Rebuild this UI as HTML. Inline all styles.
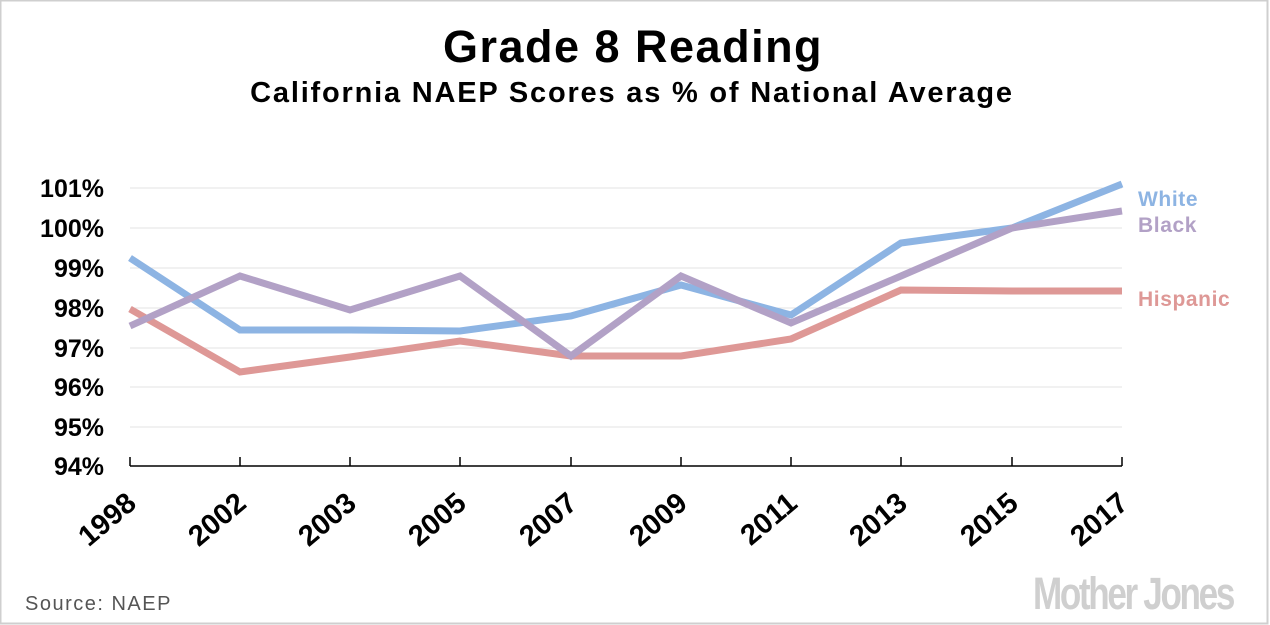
<!DOCTYPE html>
<html><head><meta charset="utf-8"><style>
html,body{margin:0;padding:0;background:#fff;}
svg{display:block;font-family:"Liberation Sans","DejaVu Sans",sans-serif;}
</style></head><body>
<svg width="1270" height="625" viewBox="0 0 1270 625">
<rect x="0.5" y="0.5" width="1267" height="623" fill="#fff" stroke="#cfcfcf" stroke-width="2"/>
<text x="633" y="62" text-anchor="middle" font-size="45" font-weight="bold" fill="#000" letter-spacing="1.5">Grade 8 Reading</text>
<text x="632" y="102" text-anchor="middle" font-size="29" font-weight="bold" fill="#000" letter-spacing="1.8">California NAEP Scores as % of National Average</text>
<g stroke="#e3e3e3" stroke-width="1">
<line x1="130" x2="1122" y1="188" y2="188"/><line x1="130" x2="1122" y1="228" y2="228"/>
<line x1="130" x2="1122" y1="268" y2="268"/><line x1="130" x2="1122" y1="308" y2="308"/>
<line x1="130" x2="1122" y1="348" y2="348"/><line x1="130" x2="1122" y1="387" y2="387"/>
<line x1="130" x2="1122" y1="427" y2="427"/>
</g>
<g font-size="25" font-weight="bold" text-anchor="end" fill="#000">
<text x="104" y="197">101%</text><text x="104" y="237">100%</text><text x="104" y="277">99%</text>
<text x="104" y="317">98%</text><text x="104" y="357">97%</text><text x="104" y="396">96%</text>
<text x="104" y="436">95%</text><text x="104" y="475">94%</text>
</g>
<g stroke="#000" stroke-width="1.5" fill="none">
<line x1="130" x2="1122" y1="466" y2="466"/>
<path d="M130 457V466M240 457V466M350 457V466M460 457V466M571 457V466M681 457V466M791 457V466M901 457V466M1012 457V466M1122 457V466"/>
</g>
<g font-size="29" font-weight="bold" text-anchor="end" fill="#000">
<text transform="translate(138,506) rotate(-40)">1998</text>
<text transform="translate(248,506) rotate(-40)">2002</text>
<text transform="translate(358,506) rotate(-40)">2003</text>
<text transform="translate(468,506) rotate(-40)">2005</text>
<text transform="translate(579,506) rotate(-40)">2007</text>
<text transform="translate(689,506) rotate(-40)">2009</text>
<text transform="translate(799,506) rotate(-40)">2011</text>
<text transform="translate(909,506) rotate(-40)">2013</text>
<text transform="translate(1020,506) rotate(-40)">2015</text>
<text transform="translate(1130,506) rotate(-40)">2017</text>
</g>
<g fill="none" stroke-width="7" stroke-linejoin="miter">
<polyline stroke="#de9896" points="130,309 240,372 350,357 460,341 571,356 681,356 791,339 901,290 1012,291 1122,291"/>
<polyline stroke="#8db4e3" points="130,258 240,330 350,330 460,331 571,316 681,285 791,315 901,243 1012,228 1122,184"/>
<polyline stroke="#b2a1c6" points="130,326 240,276 350,310 460,276 571,356 681,276 791,323 901,276 1012,228 1122,211"/>
</g>
<g font-size="21" font-weight="bold" letter-spacing="0.6">
<text x="1138" y="206" fill="#8db4e3">White</text>
<text x="1138" y="232" fill="#b2a1c6">Black</text>
<text x="1138" y="306" fill="#de9896">Hispanic</text>
</g>
<text x="25" y="610" font-size="20" fill="#555" letter-spacing="1.5">Source: NAEP</text>
<text x="1233" y="609" text-anchor="end" font-size="45" font-weight="bold" fill="#cfcfcf" letter-spacing="-3" transform="translate(1233,0) scale(0.78,1) translate(-1233,0)">Mother Jones</text>
</svg>
</body></html>
